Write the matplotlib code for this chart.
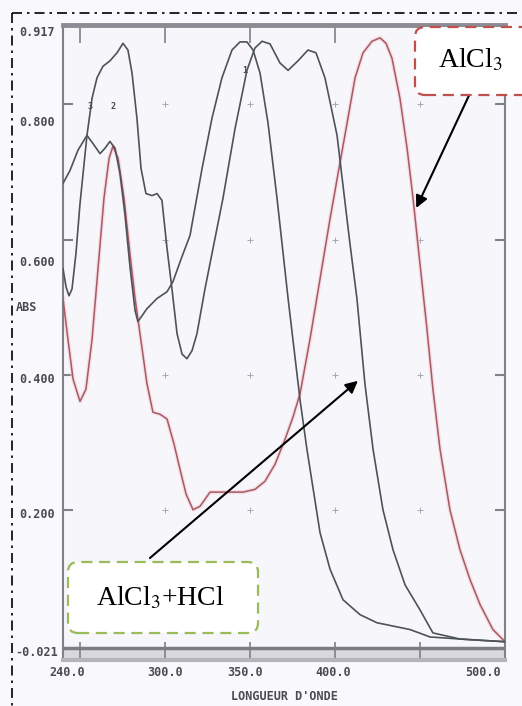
import matplotlib
matplotlib.use('Agg')
import matplotlib.pyplot as plt
from matplotlib.patches import FancyBboxPatch
from matplotlib.lines import Line2D
from matplotlib.transforms import IdentityTransform

plt.rcParams['mathtext.fontset'] = 'stix'

# spectra (wavelength nm, absorbance)
meoh_nm = [240.0, 244.1, 248.8, 254.1, 257.6, 261.8, 264.7, 267.6, 270.6, 273.5,
           276.5, 279.4, 282.4, 284.1, 289.4, 295.3, 301.2, 304.7, 310.0, 314.7,
           321.8, 327.6, 333.5, 339.4, 344.1, 348.2, 351.8, 355.9, 360.6, 365.9,
           372.4, 379.4, 383.5, 391.2, 397.1, 404.7, 414.7, 424.7, 444.1, 455.9,
           479.4, 500.0]
meoh_abs = [0.683, 0.702, 0.732, 0.754, 0.742, 0.727, 0.735, 0.745, 0.735, 0.698,
            0.636, 0.560, 0.495, 0.479, 0.498, 0.513, 0.523, 0.538, 0.575, 0.606,
            0.705, 0.779, 0.839, 0.880, 0.892, 0.892, 0.880, 0.846, 0.772, 0.661,
            0.513, 0.364, 0.290, 0.167, 0.113, 0.068, 0.046, 0.034, 0.024, 0.013,
            0.009, 0.006]

hcl_nm = [240.0, 241.8, 243.5, 245.3, 247.6, 250.0, 254.1, 257.1, 260.0, 263.5,
          267.6, 271.8, 275.3, 278.2, 280.6, 283.5, 285.9, 288.8, 292.4, 295.3,
          298.2, 301.2, 304.1, 307.1, 310.0, 312.9, 315.9, 318.8, 323.5, 328.8,
          334.1, 341.2, 348.2, 352.9, 357.1, 361.8, 367.6, 372.4, 378.2, 384.1,
          388.8, 394.1, 401.2, 404.7, 408.8, 412.9, 417.6, 422.4, 428.2, 434.1,
          441.2, 450.0, 457.6, 473.5, 500.0]
hcl_abs = [0.557, 0.530, 0.517, 0.527, 0.579, 0.653, 0.754, 0.809, 0.839, 0.856,
           0.864, 0.876, 0.890, 0.880, 0.846, 0.779, 0.705, 0.668, 0.665, 0.668,
           0.658, 0.587, 0.527, 0.461, 0.431, 0.424, 0.436, 0.461, 0.527, 0.594,
           0.661, 0.764, 0.850, 0.883, 0.893, 0.889, 0.861, 0.850, 0.864, 0.880,
           0.876, 0.839, 0.754, 0.680, 0.594, 0.513, 0.387, 0.290, 0.201, 0.142,
           0.090, 0.053, 0.019, 0.010, 0.006]

alcl3_nm = [240.0, 242.9, 245.9, 250.0, 253.5, 257.1, 260.6, 264.1, 267.1, 269.4,
            272.4, 275.9, 279.4, 282.4, 285.3, 289.4, 292.9, 297.1, 301.2, 305.3,
            308.8, 312.4, 316.5, 320.6, 326.5, 335.3, 345.9, 352.9, 358.8, 364.7,
            370.6, 375.3, 379.4, 385.3, 391.2, 397.1, 402.9, 407.1, 411.8, 416.5,
            421.8, 426.5, 430.0, 433.5, 438.2, 442.4, 445.9, 450.0, 454.1, 457.6,
            461.8, 467.6, 473.5, 479.4, 485.3, 492.9, 500.0]
alcl3_abs = [0.513, 0.453, 0.394, 0.361, 0.379, 0.453, 0.557, 0.661, 0.720, 0.738,
             0.720, 0.661, 0.579, 0.513, 0.461, 0.387, 0.345, 0.342, 0.335, 0.298,
             0.261, 0.224, 0.201, 0.206, 0.227, 0.227, 0.227, 0.231, 0.243, 0.268,
             0.305, 0.338, 0.372, 0.453, 0.542, 0.631, 0.713, 0.772, 0.839, 0.876,
             0.893, 0.898, 0.890, 0.868, 0.809, 0.735, 0.661, 0.564, 0.468, 0.379,
             0.290, 0.201, 0.142, 0.098, 0.061, 0.024, 0.006]

ytick_labels = ["0.917", "0.800", "0.600", "0.400", "0.200", "-0.021"]
xtick_labels = ["240.0", "300.0", "350.0", "400.0", "500.0"]
peak_labels = ["3", "2", "1"]

W, H = 522, 706
GRAY = '#808088'
mono = dict(family='DejaVu Sans Mono', weight='bold', color='#4a4a52')

fig = plt.figure(figsize=(W / 100, H / 100), dpi=100, facecolor='#f9f8fc')
ax = fig.add_axes([63 / W, 1 - 660 / H, (505 - 63) / W, (660 - 25) / H])
ax.set_facecolor('#f7f6fb')
ax.set_xlim(240, 500)
ax.set_ylim(-0.021, 0.917)

# the spectra
ax.plot(alcl3_nm, alcl3_abs, color='#f6cfd7', lw=3, alpha=0.6, zorder=2)
ax.plot(alcl3_nm, alcl3_abs, color='#a65a64', lw=1.1, zorder=3)
ax.plot(meoh_nm, meoh_abs, color='#4d5359', lw=1.2, zorder=3)
ax.plot(hcl_nm, hcl_abs, color='#4d5359', lw=1.2, zorder=3)

# faint grid crosses of the recorder
for gx in [300, 350, 400, 450]:
    for gy in [0.2, 0.4, 0.6, 0.8]:
        ax.plot(gx, gy, marker='+', ms=4, mew=0.7, color='#a8a8b2', zorder=1)

# spines / frame like the scan
for s in ['left', 'right']:
    ax.spines[s].set_color(GRAY)
    ax.spines[s].set_linewidth(1.5)
ax.spines['top'].set_color('#8c8c94')
ax.spines['top'].set_linewidth(3.5)
ax.spines['bottom'].set_color('#b4b4bc')
ax.spines['bottom'].set_linewidth(3)
ax.axhspan(-0.021, -0.004, color='#d8d8de', zorder=1)
ax.axhline(-0.003, color='#7c7c84', lw=2.5, zorder=2)

ax.set_xticks([250, 300, 350, 400, 450])
ax.set_yticks([0.2, 0.4, 0.6, 0.8])
ax.tick_params(axis='x', direction='in', length=13, width=1.2, color=GRAY,
               top=True, bottom=True, labelbottom=False)
ax.tick_params(axis='y', direction='in', length=7, width=1.5, color=GRAY,
               left=True, right=True, labelleft=False)

# tick labels of the recorder
for lab, y in zip(ytick_labels, [33, 122, 262, 380, 515, 652]):
    fig.text(37 / W, 1 - y / H, lab, ha='center', va='center', fontsize=8.5, **mono)
fig.text(27 / W, 1 - 308 / H, "ABS", ha='center', va='center', fontsize=8.5, **mono)
for lab, x in zip(xtick_labels, [67, 165, 245, 333, 483]):
    fig.text(x / W, 1 - 673 / H, lab, ha='center', va='center', fontsize=8.5, **mono)
fig.text(284 / W, 1 - 697 / H, "LONGUEUR D'ONDE", ha='center', va='center',
         fontsize=8.5, **mono)

for lab, (x, y) in zip(peak_labels, [(255.9, 0.797), (269.4, 0.797), (347.1, 0.850)]):
    ax.text(x, y, lab, ha='center', va='center', fontsize=6, zorder=4, **mono)

# dash-dot frame of the page
dd = (0, (6, 3, 1.5, 3))
fig.add_artist(Line2D([12, W], [H - 13, H - 13], transform=IdentityTransform(),
                      color='black', lw=1.2, linestyle=dd))
fig.add_artist(Line2D([12, 12], [H - 13, 0], transform=IdentityTransform(),
                      color='black', lw=1.2, linestyle=dd))

# label boxes
box1 = FancyBboxPatch((415, H - 95), 130, 68, boxstyle='round,pad=0,rounding_size=10',
                      transform=IdentityTransform(), facecolor='white',
                      edgecolor='#c0504d', lw=1.6, linestyle=(0, (5, 3)), zorder=5)
box2 = FancyBboxPatch((68, H - 633), 190, 71, boxstyle='round,pad=0,rounding_size=10',
                      transform=IdentityTransform(), facecolor='white',
                      edgecolor='#9bbb59', lw=1.6, linestyle=(0, (5, 3)), zorder=5)
fig.add_artist(box1)
fig.add_artist(box2)
fig.text(470 / W, 1 - 60 / H, r"AlCl$_3$", ha='center', va='center', fontsize=20,
         family='Liberation Serif', zorder=6)
fig.text(160 / W, 1 - 598 / H, r"AlCl$_3$+HCl", ha='center', va='center', fontsize=20,
         family='Liberation Serif', zorder=6)

ax.annotate('', xy=(447.1, 0.643), xytext=(479.4, 0.816), annotation_clip=False,
            arrowprops=dict(arrowstyle='-|>', color='black', lw=1.5, mutation_scale=18),
            zorder=6)
ax.annotate('', xy=(414.7, 0.394), xytext=(289.9, 0.127), annotation_clip=False,
            arrowprops=dict(arrowstyle='-|>', color='black', lw=1.5, mutation_scale=18),
            zorder=6)

fig.savefig('out.png', dpi=100, facecolor=fig.get_facecolor())
